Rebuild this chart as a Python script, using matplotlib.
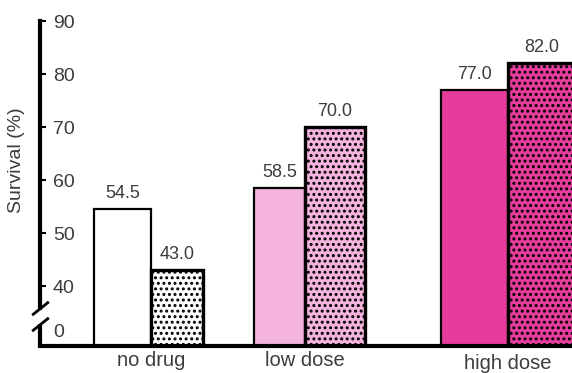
import numpy as np
import matplotlib.pyplot as plt
import matplotlib.transforms as mtransforms
from matplotlib.path import Path

groups = ['no drug', 'low dose', 'high dose']
plain = [54.5, 58.5, 77.0]
dotted = [43.0, 70.0, 82.0]
yticks = [40, 50, 60, 70, 80, 90]

plt.rcParams['font.family'] = ['Liberation Sans', 'DejaVu Sans']
plt.rcParams['hatch.linewidth'] = 1.4
txt = '#3c3c3c'

# broken y axis: the baseline stands for 0, the scale proper starts near 40
floor = 28.7
zero_at = 31.7
brk_hi, brk_lo = 35.9, 32.8

pos = np.array([0, 1, 2.32])
w_left = np.array([0.37, 0.33, 0.435])
w_right = np.array([0.34, 0.39, 0.435])
fills = ['white', '#f5b4de', '#e63c9b']

fig = plt.figure(figsize=(5.72, 3.73), dpi=100)
ax = fig.add_axes([40 / 572, 27 / 373, 532 / 572, 328 / 373])

ax.bar(pos, np.array(plain) - floor, bottom=floor, width=-w_left, align='edge',
       color=fills, edgecolor='black', linewidth=1.6, zorder=2)
ax.bar(pos, np.array(dotted) - floor, bottom=floor, width=w_right, align='edge',
       color=fills, edgecolor='black', linewidth=2.4, hatch='...', zorder=2)

for x, v in zip(pos - w_left / 2, plain):
    ax.annotate(f'{v:.1f}', (x, v), xytext=(0, 8), textcoords='offset points',
                ha='center', va='baseline', fontsize=13, color=txt)
for x, v in zip(pos + w_right / 2, dotted):
    ax.annotate(f'{v:.1f}', (x, v), xytext=(0, 8), textcoords='offset points',
                ha='center', va='baseline', fontsize=13, color=txt)

ax.set_xlim(-0.7208, 2.734)
ax.set_ylim(floor, 90.57)

for s in ['top', 'right']:
    ax.spines[s].set_visible(False)
ax.spines['left'].set_linewidth(3)
ax.spines['bottom'].set_linewidth(3)
ax.spines['left'].set_bounds(brk_hi, 90)
ax.spines['left'].set_capstyle('projecting')
ax.spines['bottom'].set_capstyle('projecting')

# lower stub of the axis and the break marks
ytr = ax.get_yaxis_transform()
ax.plot([0, 0], [floor, brk_lo], transform=ytr, color='black', lw=3,
        solid_capstyle='butt', clip_on=False)
slash = Path([(-1, -0.8), (1, 0.8)])
ax.plot([0, 0], [brk_hi, brk_lo], transform=ytr, ls='none', marker=slash,
        ms=12, mew=2, mfc='none', mec='black', clip_on=False)

ax.set_yticks([zero_at] + yticks, ['0'] + [str(t) for t in yticks])
ax.yaxis.get_major_ticks()[0].tick1line.set_visible(False)
ax.tick_params(axis='y', direction='in', length=4.4, width=1.5, pad=-9.2,
               labelsize=14, labelcolor=txt)
for lbl in ax.get_yticklabels():
    lbl.set_ha('left')

ax.set_xticks(pos, groups)
ax.tick_params(axis='x', length=0, pad=3.5, labelsize=14.5, labelcolor=txt)
hi = ax.get_xticklabels()[2]
hi.set_transform(hi.get_transform()
                 + mtransforms.ScaledTranslation(0, -2 / 72, fig.dpi_scale_trans))

fig.text(17 / 572, 1 - 160 / 373, 'Survival (%)', rotation=90, ha='center',
         va='center', fontsize=14, color=txt)

fig.savefig('out.png', dpi=100)
